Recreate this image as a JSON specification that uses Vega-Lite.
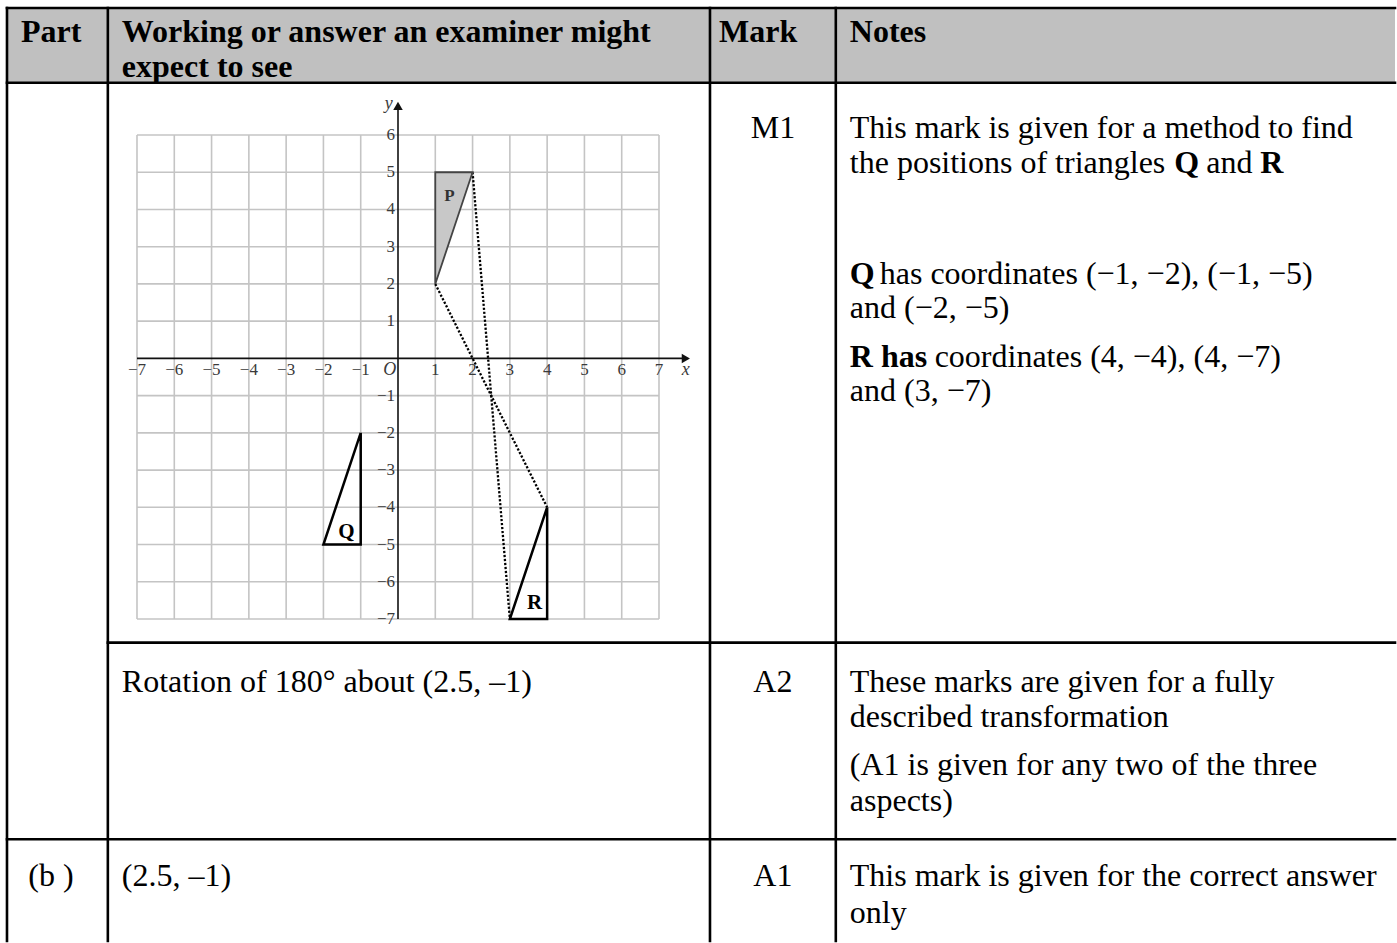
{
  "$schema": "https://vega.github.io/schema/vega-lite/v6.json",
  "width": 1397,
  "height": 943,
  "autosize": {"type": "fit", "contains": "padding"},
  "padding": 0,
  "background": "white",
  "config": {"view": {"stroke": null}, "text": {"font": "Liberation Serif"}},
  "datasets": {
    "header": [{"x": 7, "y": 8, "x2": 1397, "y2": 83}],
    "lines": [
      {"x": 7, "y": 8, "x2": 1397, "y2": 8},
      {"x": 7, "y": 83, "x2": 1397, "y2": 83},
      {"x": 108, "y": 644, "x2": 1397, "y2": 644},
      {"x": 7, "y": 841, "x2": 1397, "y2": 841},
      {"x": 7, "y": 8, "x2": 7, "y2": 943},
      {"x": 108, "y": 8, "x2": 108, "y2": 943},
      {"x": 711, "y": 8, "x2": 711, "y2": 943},
      {"x": 837, "y": 8, "x2": 837, "y2": 943}
    ],
    "bodyLeft": [
      {"x": 851, "y": 128, "t": "This mark is given for a method to find"},
      {"x": 851, "y": 163, "t": "the positions of triangles"},
      {"x": 1208, "y": 163, "t": "and"},
      {"x": 881, "y": 275, "t": "has coordinates (−1, −2), (−1, −5)"},
      {"x": 851, "y": 309, "t": "and (−2, −5)"},
      {"x": 936, "y": 358, "t": "coordinates (4, −4), (4, −7)"},
      {"x": 851, "y": 392, "t": "and (3, −7)"},
      {"x": 122, "y": 683, "t": "Rotation of 180° about (2.5, –1)"},
      {"x": 851, "y": 683, "t": "These marks are given for a fully"},
      {"x": 851, "y": 719, "t": "described transformation"},
      {"x": 851, "y": 767, "t": "(A1 is given for any two of the three"},
      {"x": 851, "y": 803, "t": "aspects)"},
      {"x": 122, "y": 878, "t": "(2.5, –1)"},
      {"x": 851, "y": 878, "t": "This mark is given for the correct answer"},
      {"x": 851, "y": 915, "t": "only"}
    ],
    "bodyCenter": [
      {"x": 774, "y": 128, "t": "M1"},
      {"x": 774, "y": 683, "t": "A2"},
      {"x": 774, "y": 878, "t": "A1"},
      {"x": 51, "y": 878, "t": "(b )"}
    ],
    "boldLeft": [
      {"x": 21, "y": 32, "t": "Part"},
      {"x": 122, "y": 32, "t": "Working or answer an examiner might"},
      {"x": 122, "y": 67, "t": "expect to see"},
      {"x": 720, "y": 32, "t": "Mark"},
      {"x": 851, "y": 32, "t": "Notes"},
      {"x": 1176, "y": 163, "t": "Q"},
      {"x": 1262, "y": 163, "t": "R"},
      {"x": 851, "y": 275, "t": "Q"},
      {"x": 851, "y": 358, "t": "R has"}
    ],
    "grid": [
      {"x": -7, "y": -7, "x2": -7, "y2": 6},
      {"x": -6, "y": -7, "x2": -6, "y2": 6},
      {"x": -5, "y": -7, "x2": -5, "y2": 6},
      {"x": -4, "y": -7, "x2": -4, "y2": 6},
      {"x": -3, "y": -7, "x2": -3, "y2": 6},
      {"x": -2, "y": -7, "x2": -2, "y2": 6},
      {"x": -1, "y": -7, "x2": -1, "y2": 6},
      {"x": 1, "y": -7, "x2": 1, "y2": 6},
      {"x": 2, "y": -7, "x2": 2, "y2": 6},
      {"x": 3, "y": -7, "x2": 3, "y2": 6},
      {"x": 4, "y": -7, "x2": 4, "y2": 6},
      {"x": 5, "y": -7, "x2": 5, "y2": 6},
      {"x": 6, "y": -7, "x2": 6, "y2": 6},
      {"x": 7, "y": -7, "x2": 7, "y2": 6},
      {"x": -7, "y": -7, "x2": 7, "y2": -7},
      {"x": -7, "y": -6, "x2": 7, "y2": -6},
      {"x": -7, "y": -5, "x2": 7, "y2": -5},
      {"x": -7, "y": -4, "x2": 7, "y2": -4},
      {"x": -7, "y": -3, "x2": 7, "y2": -3},
      {"x": -7, "y": -2, "x2": 7, "y2": -2},
      {"x": -7, "y": -1, "x2": 7, "y2": -1},
      {"x": -7, "y": 1, "x2": 7, "y2": 1},
      {"x": -7, "y": 2, "x2": 7, "y2": 2},
      {"x": -7, "y": 3, "x2": 7, "y2": 3},
      {"x": -7, "y": 4, "x2": 7, "y2": 4},
      {"x": -7, "y": 5, "x2": 7, "y2": 5},
      {"x": -7, "y": 6, "x2": 7, "y2": 6}
    ],
    "axes": [
      {"x": -7, "y": 0, "x2": 7.62, "y2": 0},
      {"x": 0, "y": -7, "x2": 0, "y2": 6.7}
    ],
    "arrows": [
      {"x": 7.72, "y": 0, "s": "right"},
      {"x": 0, "y": 6.78, "s": "up"}
    ],
    "ticklabels": [
      {"x": -7, "y": -0.3, "t": "−7", "side": "xaxis"}, {"x": -6, "y": -0.3, "t": "−6", "side": "xaxis"},
      {"x": -5, "y": -0.3, "t": "−5", "side": "xaxis"}, {"x": -4, "y": -0.3, "t": "−4", "side": "xaxis"},
      {"x": -3, "y": -0.3, "t": "−3", "side": "xaxis"}, {"x": -2, "y": -0.3, "t": "−2", "side": "xaxis"},
      {"x": -1, "y": -0.3, "t": "−1", "side": "xaxis"},
      {"x": 1, "y": -0.3, "t": "1", "side": "xaxis"}, {"x": 2, "y": -0.3, "t": "2", "side": "xaxis"},
      {"x": 3, "y": -0.3, "t": "3", "side": "xaxis"}, {"x": 4, "y": -0.3, "t": "4", "side": "xaxis"},
      {"x": 5, "y": -0.3, "t": "5", "side": "xaxis"}, {"x": 6, "y": -0.3, "t": "6", "side": "xaxis"},
      {"x": 7, "y": -0.3, "t": "7", "side": "xaxis"},
      {"x": -0.08, "y": 6, "t": "6", "side": "yaxis"}, {"x": -0.08, "y": 5, "t": "5", "side": "yaxis"},
      {"x": -0.08, "y": 4, "t": "4", "side": "yaxis"}, {"x": -0.08, "y": 3, "t": "3", "side": "yaxis"},
      {"x": -0.08, "y": 2, "t": "2", "side": "yaxis"}, {"x": -0.08, "y": 1, "t": "1", "side": "yaxis"},
      {"x": -0.08, "y": -1, "t": "−1", "side": "yaxis"}, {"x": -0.08, "y": -2, "t": "−2", "side": "yaxis"},
      {"x": -0.08, "y": -3, "t": "−3", "side": "yaxis"}, {"x": -0.08, "y": -4, "t": "−4", "side": "yaxis"},
      {"x": -0.08, "y": -5, "t": "−5", "side": "yaxis"}, {"x": -0.08, "y": -6, "t": "−6", "side": "yaxis"},
      {"x": -0.08, "y": -7, "t": "−7", "side": "yaxis"}
    ],
    "italics": [
      {"x": -0.22, "y": -0.3, "t": "O"},
      {"x": 7.72, "y": -0.3, "t": "x"},
      {"x": -0.25, "y": 6.82, "t": "y"}
    ],
    "pfill": [
      {"x": 1, "y": 5, "y2": 2},
      {"x": 2, "y": 5, "y2": 5}
    ],
    "tri": [
      {"tri": "P", "i": 0, "x": 1, "y": 2},
      {"tri": "P", "i": 1, "x": 1, "y": 5},
      {"tri": "P", "i": 2, "x": 2, "y": 5},
      {"tri": "P", "i": 3, "x": 1, "y": 2},
      {"tri": "Q", "i": 0, "x": -1, "y": -2},
      {"tri": "Q", "i": 1, "x": -1, "y": -5},
      {"tri": "Q", "i": 2, "x": -2, "y": -5},
      {"tri": "Q", "i": 3, "x": -1, "y": -2},
      {"tri": "R", "i": 0, "x": 4, "y": -4},
      {"tri": "R", "i": 1, "x": 4, "y": -7},
      {"tri": "R", "i": 2, "x": 3, "y": -7},
      {"tri": "R", "i": 3, "x": 4, "y": -4}
    ],
    "dotted": [
      {"x": 1, "y": 2, "x2": 4, "y2": -4},
      {"x": 2, "y": 5, "x2": 3, "y2": -7}
    ],
    "names": [
      {"x": 1.38, "y": 4.37, "t": "P", "k": "small"},
      {"x": -1.38, "y": -4.66, "t": "Q", "k": "big"},
      {"x": 3.66, "y": -6.56, "t": "R", "k": "big"}
    ]
  },
  "resolve": {"scale": {"x": "independent", "y": "independent"}},
  "layer": [
    {
      "encoding": {
        "x": {"field": "x", "type": "quantitative", "scale": {"domain": [0, 1397], "nice": false, "zero": false}, "axis": null},
        "y": {"field": "y", "type": "quantitative", "scale": {"domain": [0, 943], "nice": false, "zero": false, "reverse": true}, "axis": null}
      },
      "layer": [
        {
          "data": {"name": "header"},
          "mark": {"type": "rect", "fill": "#c0c0c0"},
          "encoding": {"x2": {"field": "x2"}, "y2": {"field": "y2"}}
        },
        {
          "data": {"name": "lines"},
          "mark": {"type": "rule", "stroke": "#000000", "strokeWidth": 2.6, "strokeCap": "square"},
          "encoding": {"x2": {"field": "x2"}, "y2": {"field": "y2"}}
        },
        {
          "data": {"name": "bodyLeft"},
          "mark": {"type": "text", "align": "left", "baseline": "middle", "fontSize": 32, "color": "#000000"},
          "encoding": {"text": {"field": "t"}}
        },
        {
          "data": {"name": "bodyCenter"},
          "mark": {"type": "text", "align": "center", "baseline": "middle", "fontSize": 32, "color": "#000000"},
          "encoding": {"text": {"field": "t"}}
        },
        {
          "data": {"name": "boldLeft"},
          "mark": {"type": "text", "align": "left", "baseline": "middle", "fontSize": 32, "fontWeight": "bold", "color": "#000000"},
          "encoding": {"text": {"field": "t"}}
        }
      ]
    },
    {
      "encoding": {
        "x": {"field": "x", "type": "quantitative", "scale": {"domain": [-7, 7], "range": [137, 659], "nice": false, "zero": false}, "axis": null},
        "y": {"field": "y", "type": "quantitative", "scale": {"domain": [-7, 6], "range": [619, 135], "nice": false, "zero": false}, "axis": null}
      },
      "layer": [
        {
          "data": {"name": "grid"},
          "mark": {"type": "rule", "stroke": "#c4c4c4", "strokeWidth": 1.6},
          "encoding": {"x2": {"field": "x2"}, "y2": {"field": "y2"}}
        },
        {
          "data": {"name": "pfill"},
          "mark": {"type": "area", "fill": "#c8c8c8", "opacity": 1},
          "encoding": {"y2": {"field": "y2"}}
        },
        {
          "data": {"name": "dotted"},
          "mark": {"type": "rule", "stroke": "#000000", "strokeWidth": 2.3, "strokeDash": [2.2, 1.8]},
          "encoding": {"x2": {"field": "x2"}, "y2": {"field": "y2"}}
        },
        {
          "data": {"name": "axes"},
          "mark": {"type": "rule", "stroke": "#111111", "strokeWidth": 1.6},
          "encoding": {"x2": {"field": "x2"}, "y2": {"field": "y2"}}
        },
        {
          "data": {"name": "arrows"},
          "mark": {"type": "point", "filled": true, "size": 90, "color": "#111111", "opacity": 1},
          "encoding": {
            "shape": {"field": "s", "type": "nominal", "scale": {"domain": ["right", "up"], "range": ["triangle-right", "triangle-up"]}, "legend": null}
          }
        },
        {
          "data": {"name": "tri"},
          "transform": [{"filter": "datum.tri === 'P'"}],
          "mark": {"type": "line", "stroke": "#444444", "strokeWidth": 1.8, "strokeJoin": "miter"},
          "encoding": {"detail": {"field": "tri"}, "order": {"field": "i", "type": "quantitative"}}
        },
        {
          "data": {"name": "tri"},
          "transform": [{"filter": "datum.tri !== 'P'"}],
          "mark": {"type": "line", "stroke": "#000000", "strokeWidth": 2.5, "strokeJoin": "miter"},
          "encoding": {"detail": {"field": "tri"}, "order": {"field": "i", "type": "quantitative"}}
        },
        {
          "data": {"name": "ticklabels"},
          "transform": [{"filter": "datum.side === 'xaxis'"}],
          "mark": {"type": "text", "align": "center", "baseline": "middle", "fontSize": 17, "color": "#3a3a3a"},
          "encoding": {"text": {"field": "t"}}
        },
        {
          "data": {"name": "ticklabels"},
          "transform": [{"filter": "datum.side === 'yaxis'"}],
          "mark": {"type": "text", "align": "right", "baseline": "middle", "fontSize": 17, "color": "#3a3a3a"},
          "encoding": {"text": {"field": "t"}}
        },
        {
          "data": {"name": "italics"},
          "mark": {"type": "text", "align": "center", "baseline": "middle", "fontSize": 18, "fontStyle": "italic", "color": "#3a3a3a"},
          "encoding": {"text": {"field": "t"}}
        },
        {
          "data": {"name": "names"},
          "transform": [{"filter": "datum.k === 'small'"}],
          "mark": {"type": "text", "align": "center", "baseline": "middle", "fontSize": 17, "fontWeight": "bold", "color": "#333333"},
          "encoding": {"text": {"field": "t"}}
        },
        {
          "data": {"name": "names"},
          "transform": [{"filter": "datum.k === 'big'"}],
          "mark": {"type": "text", "align": "center", "baseline": "middle", "fontSize": 21, "fontWeight": "bold", "color": "#000000"},
          "encoding": {"text": {"field": "t"}}
        }
      ]
    }
  ]
}
